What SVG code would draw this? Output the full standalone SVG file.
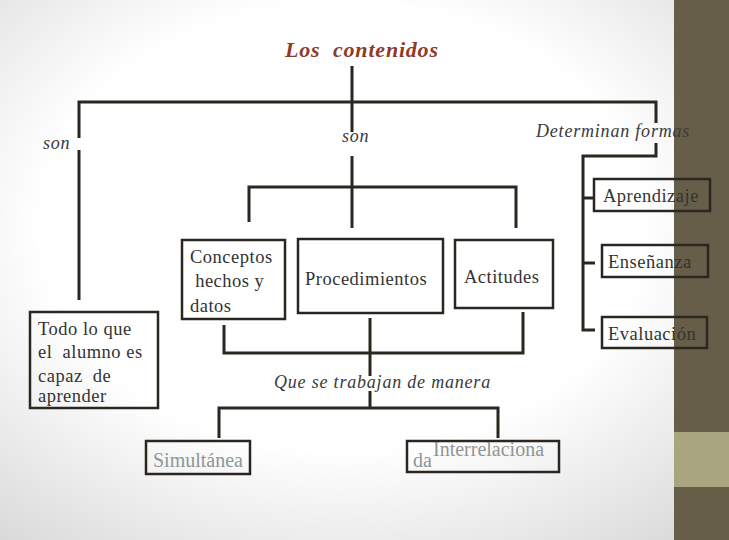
<svg xmlns="http://www.w3.org/2000/svg" width="729" height="540" viewBox="0 0 729 540">
  <defs>
    <radialGradient id="bgGrad" cx="0.47" cy="0.42" r="0.75">
      <stop offset="0" stop-color="#ffffff"/>
      <stop offset="0.55" stop-color="#ffffff"/>
      <stop offset="1" stop-color="#d9d9d9"/>
    </radialGradient>
  </defs>
  <style>
    .ln { fill: none; stroke: #2a2620; stroke-width: 3; stroke-linejoin: miter; stroke-linecap: butt; }
    .bx { fill: none; stroke: #2a2620; stroke-width: 2.5; }
    .tx { font-size: 18.5px; fill: #333333; letter-spacing: 0.5px; white-space: pre; }
    .gr { font-size: 20px; fill: #8e9696; white-space: pre; }
    .it { font-style: italic; font-size: 18px; fill: #3a3a3a; letter-spacing: 0.8px; white-space: pre; }
    .title { font-style: italic; font-weight: bold; font-size: 22px; fill: #8e3b26; letter-spacing: 0.8px; white-space: pre; }
  </style>

  <g id="background">
    <rect x="0" y="0" width="729" height="540" fill="url(#bgGrad)"/>
    <rect x="674" y="0" width="55" height="540" fill="#665e48"/>
    <rect x="674" y="432" width="55" height="55" fill="#a9a67f"/>
  </g>

  <g id="connectors">
    <path class="ln" d="M352,66 V132"/>
    <path class="ln" d="M352,156 V228"/>
    <path class="ln" d="M79,138 V102 H656 V123"/>
    <path class="ln" d="M79,150 V300"/>
    <path class="ln" d="M656,143 V156 H583 V330 H595"/>
    <path class="ln" d="M583,198 H594"/>
    <path class="ln" d="M583,263 H595"/>
    <path class="ln" d="M249,222 V187 H516 V228"/>
    <path class="ln" d="M224,325 V353 H523 V312"/>
    <path class="ln" d="M370,318 V376"/>
    <path class="ln" d="M370,391 V408"/>
    <path class="ln" d="M219,438 V408 H498 V438"/>
  </g>

  <g id="title">
    <text class="title" font-family="Liberation Serif, serif" x="285" y="57" xml:space="preserve">Los  contenidos</text>
  </g>

  <g id="label-son-left">
    <text class="it" font-family="Liberation Serif, serif" x="43" y="149">son</text>
  </g>
  <g id="label-son-mid">
    <text class="it" font-family="Liberation Serif, serif" x="342" y="142">son</text>
  </g>
  <g id="label-determinan">
    <text class="it" font-family="Liberation Serif, serif" x="536" y="137">Determinan formas</text>
  </g>
  <g id="label-que-se">
    <text class="it" font-family="Liberation Serif, serif" x="274" y="388" letter-spacing="0.6">Que se trabajan de manera</text>
  </g>

  <g id="node-todo">
    <rect class="bx" x="30" y="312" width="128" height="96"/>
    <text class="tx" font-family="Liberation Serif, serif" x="38" y="335">Todo lo que</text>
    <text class="tx" font-family="Liberation Serif, serif" x="38" y="358" xml:space="preserve">el  alumno es</text>
    <text class="tx" font-family="Liberation Serif, serif" x="38" y="382" xml:space="preserve">capaz  de</text>
    <text class="tx" font-family="Liberation Serif, serif" x="38" y="402">aprender</text>
  </g>

  <g id="node-conceptos">
    <rect class="bx" x="182" y="240" width="103" height="79"/>
    <text class="tx" font-family="Liberation Serif, serif" x="190" y="263">Conceptos</text>
    <text class="tx" font-family="Liberation Serif, serif" x="190" y="287" xml:space="preserve"> hechos y</text>
    <text class="tx" font-family="Liberation Serif, serif" x="190" y="312">datos</text>
  </g>

  <g id="node-procedimientos">
    <rect class="bx" x="298" y="239" width="145" height="74"/>
    <text class="tx" font-family="Liberation Serif, serif" x="305" y="285" letter-spacing="0.6">Procedimientos</text>
  </g>

  <g id="node-actitudes">
    <rect class="bx" x="455" y="240" width="98" height="68"/>
    <text class="tx" font-family="Liberation Serif, serif" x="464" y="283">Actitudes</text>
  </g>

  <g id="node-aprendizaje">
    <rect class="bx" x="594" y="179" width="116" height="32"/>
    <text class="tx" font-family="Liberation Serif, serif" x="603" y="202">Aprendizaje</text>
  </g>

  <g id="node-ensenanza">
    <rect class="bx" x="602" y="245" width="106" height="32"/>
    <text class="tx" font-family="Liberation Serif, serif" x="608" y="268">Enseñanza</text>
  </g>

  <g id="node-evaluacion">
    <rect class="bx" x="602" y="317" width="105" height="31"/>
    <text class="tx" font-family="Liberation Serif, serif" x="608" y="340">Evaluación</text>
  </g>

  <g id="node-simultanea">
    <rect class="bx" x="146" y="441" width="104" height="33"/>
    <text class="gr" font-family="Liberation Serif, serif" x="153" y="467">Simultánea</text>
  </g>

  <g id="node-interrelaciona">
    <rect class="bx" x="407" y="441" width="152" height="31"/>
    <text class="gr" font-family="Liberation Serif, serif" x="433" y="456">Interrelaciona</text>
    <text class="gr" font-family="Liberation Serif, serif" x="413" y="467">da</text>
  </g>
</svg>
